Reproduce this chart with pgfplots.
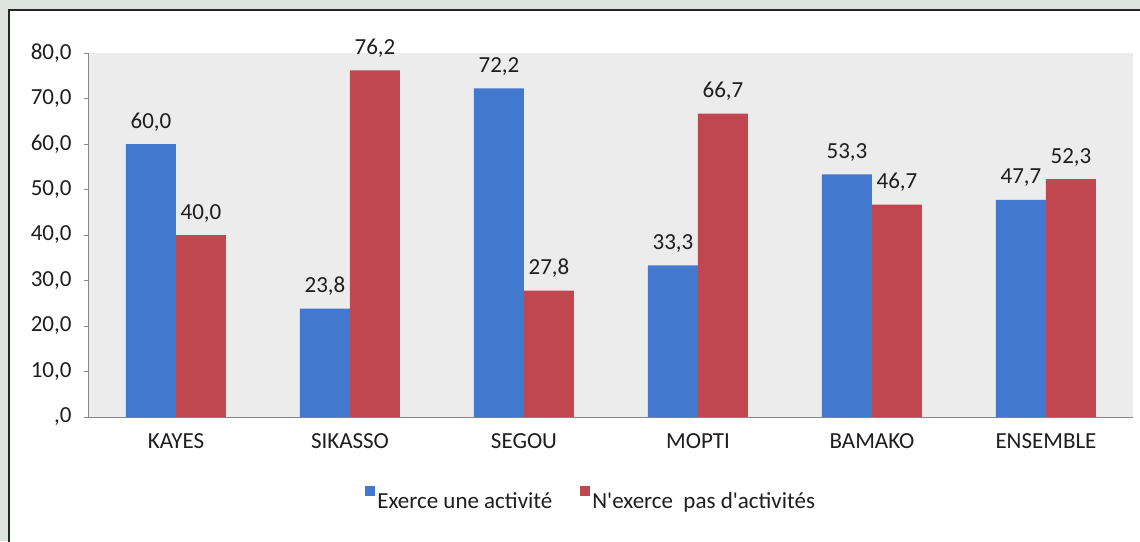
\documentclass[border=0pt]{standalone}
\usepackage{pgfplots}
\pgfplotsset{compat=1.18}
\usepackage{fontspec}
\setmainfont{Carlito}
\definecolor{bgframe}{RGB}{221,228,221}
\definecolor{plotbg}{RGB}{236,236,236}
\definecolor{cblue}{RGB}{66,121,206}
\definecolor{cred}{RGB}{192,70,80}
\definecolor{axgray}{RGB}{134,134,134}
\definecolor{txt}{RGB}{30,30,30}
\newcommand{\lblfont}{\fontsize{23}{27}\selectfont}
\begin{document}
\begin{tikzpicture}[x=1pt,y=1pt]
\useasboundingbox (0,0) rectangle (1140,541);
\clip (0,0) rectangle (1140,541);
\fill[bgframe] (0,0) rectangle (1140,541);
\fill[white,draw=black!85,line width=1.5pt] (9,531) rectangle (1160,-20);
\begin{axis}[
  at={(89pt,124pt)}, anchor=south west,
  width=1044pt, height=364pt, scale only axis,
  ymin=0, ymax=80, xmin=-0.5, xmax=5.5,
  ybar=0pt, bar width=50pt,
  axis background/.style={fill=plotbg},
  axis x line*=bottom, axis y line*=left,
  axis line style={axgray, line width=1pt},
  tick align=outside, major tick length=5pt,
  ytick={0,10,...,80},
  yticklabels={{,0},{10,0},{20,0},{30,0},{40,0},{50,0},{60,0},{70,0},{80,0}},
  xtick={0,...,5},
  xticklabels={KAYES,SIKASSO,SEGOU,MOPTI,BAMAKO,ENSEMBLE},
  x tick style={draw=none},
  y tick style={draw=axgray, line width=0.8pt},
  extra x ticks={-0.5,0.5,1.5,2.5,3.5,4.5,5.5},
  extra x tick labels={},
  extra x tick style={tick style={draw=axgray, line width=0.8pt}, major tick length=6pt},
  ticklabel style={font=\lblfont, text=txt},
  xticklabel style={yshift=-8pt},
  yticklabel style={xshift=-9pt},
  enlargelimits=false,
  nodes near coords,
  nodes near coords style={font=\lblfont, text=txt, anchor=base, yshift=16pt, inner sep=0pt},
  /pgf/number format/fixed,
  /pgf/number format/fixed zerofill,
  /pgf/number format/precision=1,
  /pgf/number format/use comma,
  /pgf/number format/assume math mode=true,
  legend style={at={(0.481,-0.225)}, anchor=center, draw=none, fill=none,
    font=\lblfont, text=txt, legend columns=2,
    /tikz/every even column/.append style={column sep=26pt}},
]
\addplot[fill=cblue, draw=none,
  legend image code/.code={\fill[cblue] (0pt,6pt) rectangle (10pt,16pt);}]
  coordinates {(0,60.0) (1,23.8) (2,72.2) (3,33.3) (4,53.3) (5,47.7)};
\addlegendentry{Exerce une activité}
\addplot[fill=cred, draw=none,
  legend image code/.code={\fill[cred] (0pt,6pt) rectangle (10pt,16pt);}]
  coordinates {(0,40.0) (1,76.2) (2,27.8) (3,66.7) (4,46.7) (5,52.3)};
\addlegendentry{N\textquotesingle exerce\ \ pas d\textquotesingle activités}
\end{axis}
\end{tikzpicture}
\end{document}
